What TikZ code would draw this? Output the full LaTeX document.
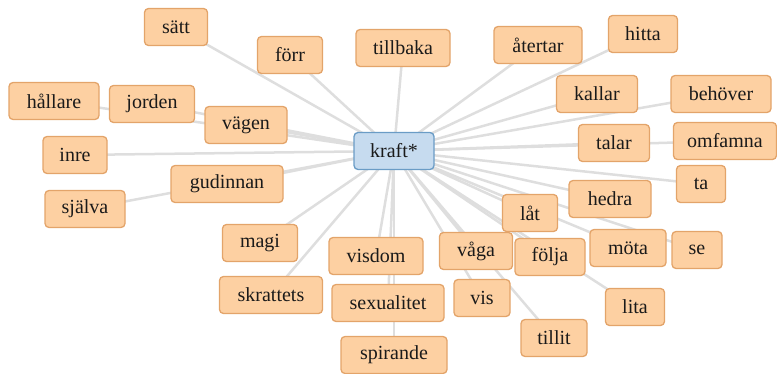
\documentclass[tikz,border=0pt]{standalone}
\usepackage{fontspec}
\setmainfont{Liberation Serif}
\usetikzlibrary{backgrounds}
\definecolor{ofill}{HTML}{FDD0A2}
\definecolor{odraw}{HTML}{E3A46A}
\definecolor{bfill}{HTML}{C6DBEF}
\definecolor{bdraw}{HTML}{6A9CC6}
\definecolor{edgec}{HTML}{DEDEDE}
\definecolor{txt}{HTML}{1A1A1A}
\begin{document}
\begin{tikzpicture}[x=1pt,y=-1pt,
  word/.style={draw=odraw, fill=ofill, line width=1.3pt, rounded corners=4pt,
    minimum height=37pt, inner sep=0pt, text=txt,
    font=\fontsize{20}{22}\selectfont},
  hub/.style={word, draw=bdraw, fill=bfill},
  link/.style={draw=edgec, line width=2.5pt}]
\useasboundingbox (0,0) rectangle (777,374);
\node[hub, minimum width=80pt] (kraft) at (394,151) {kraft*};
\node[word, minimum width=63pt] (satt) at (176,27) {sätt};
\node[word, minimum width=65pt] (forr) at (290,55) {förr};
\node[word, minimum width=94pt] (tillbaka) at (403,48) {tillbaka};
\node[word, minimum width=88pt] (atertar) at (538,45) {återtar};
\node[word, minimum width=69pt] (hitta) at (643,34) {hitta};
\node[word, minimum width=81pt] (kallar) at (597,94) {kallar};
\node[word, minimum width=100pt] (behover) at (721,94) {behöver};
\node[word, minimum width=71pt] (talar) at (614,143) {talar};
\node[word, minimum width=103pt] (omfamna) at (725,141) {omfamna};
\node[word, minimum width=49pt] (ta) at (701,184) {ta};
\node[word, minimum width=90pt] (hallare) at (54,101) {hållare};
\node[word, minimum width=85pt] (jorden) at (152,104) {jorden};
\node[word, minimum width=82pt] (vagen) at (246,125) {vägen};
\node[word, minimum width=64pt] (inre) at (75,155) {inre};
\node[word, minimum width=112pt] (gudinnan) at (227,184) {gudinnan};
\node[word, minimum width=80pt] (sjalva) at (85,209) {själva};
\node[word, minimum width=75pt] (magi) at (260,243) {magi};
\node[word, minimum width=103pt] (skrattets) at (271,295) {skrattets};
\node[word, minimum width=94pt] (visdom) at (376,256) {visdom};
\node[word, minimum width=112pt] (sexualitet) at (388,303) {sexualitet};
\node[word, minimum width=106pt] (spirande) at (394,355) {spirande};
\node[word, minimum width=73pt] (vaga) at (476,251) {våga};
\node[word, minimum width=56pt] (vis) at (482,298) {vis};
\node[word, minimum width=66pt] (tillit) at (554,338) {tillit};
\node[word, minimum width=55pt] (lat) at (530,213) {låt};
\node[word, minimum width=82pt] (hedra) at (610,199) {hedra};
\node[word, minimum width=70pt] (folja) at (550,257) {följa};
\node[word, minimum width=76pt] (mota) at (628,248) {möta};
\node[word, minimum width=50pt] (se) at (697,250) {se};
\node[word, minimum width=59pt] (lita) at (635,307) {lita};
\begin{scope}[on background layer]
\foreach \n in {satt,forr,tillbaka,atertar,hitta,kallar,behover,talar,omfamna,ta,
  hallare,jorden,vagen,inre,gudinnan,sjalva,magi,skrattets,visdom,sexualitet,
  spirande,vaga,vis,tillit,lat,hedra,folja,mota,se,lita}
  \draw[link] (kraft.center) -- (\n.center);
\end{scope}
\end{tikzpicture}
\end{document}
